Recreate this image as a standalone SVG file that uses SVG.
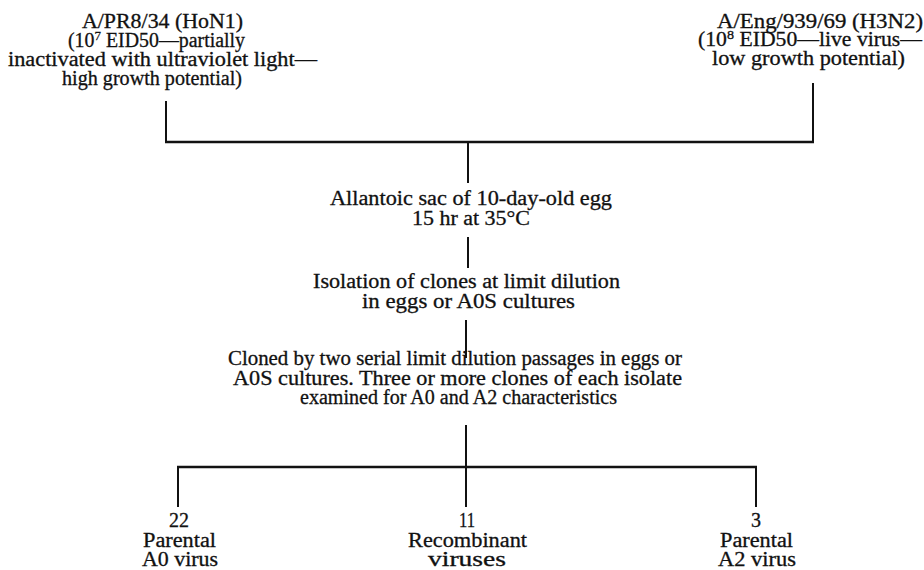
<svg xmlns="http://www.w3.org/2000/svg" width="924" height="570" viewBox="0 0 924 570">
<style>
text{font-family:"Liberation Serif","Times New Roman",serif;font-size:20px;fill:#111;stroke:#111;stroke-width:0.3;text-anchor:middle}
.sup{font-size:13px}
line{stroke:#111;stroke-width:2;stroke-linecap:butt}
</style>
<rect width="924" height="570" fill="#fff"/>
<g id="connectors">
<line x1="166" y1="101" x2="166" y2="143"/>
<line x1="813" y1="83" x2="813" y2="143"/>
<line x1="165" y1="142" x2="814" y2="142" style="stroke-width:2.5"/>
<line x1="468" y1="142" x2="468" y2="183"/>
<line x1="468" y1="237" x2="468" y2="268"/>
<line x1="466" y1="320" x2="466" y2="358"/>
<line x1="466" y1="425" x2="466" y2="467"/>
<line x1="177" y1="467" x2="757" y2="467" style="stroke-width:2.5"/>
<line x1="178" y1="467" x2="178" y2="507"/>
<line x1="466" y1="467" x2="466" y2="507"/>
<line x1="756" y1="467" x2="756" y2="507"/>
</g>
<g id="parent-a0">
<text x="162.5" y="28" textLength="161" lengthAdjust="spacingAndGlyphs">A/PR8/34 (HoN1)</text>
<text x="156.5" y="47" textLength="177" lengthAdjust="spacingAndGlyphs">(10<tspan class="sup" dy="-7">7</tspan><tspan dy="7"> EID50—partially</tspan></text>
<text x="162.5" y="66" textLength="309" lengthAdjust="spacingAndGlyphs">inactivated with ultraviolet light—</text>
<text x="152" y="85" textLength="180" lengthAdjust="spacingAndGlyphs">high growth potential)</text>
</g>
<g id="parent-a2">
<text x="820" y="28" textLength="206" lengthAdjust="spacingAndGlyphs">A/Eng/939/69 (H3N2)</text>
<text x="810" y="46" textLength="224" lengthAdjust="spacingAndGlyphs">(10<tspan class="sup" dy="-7">8</tspan><tspan dy="7"> EID50—live virus—</tspan></text>
<text x="808.5" y="65" textLength="193" lengthAdjust="spacingAndGlyphs">low growth potential)</text>
</g>
<g id="allantoic">
<text x="471" y="205" textLength="282" lengthAdjust="spacingAndGlyphs">Allantoic sac of 10-day-old egg</text>
<text x="471" y="225" textLength="118" lengthAdjust="spacingAndGlyphs">15 hr at 35°C</text>
</g>
<g id="isolation">
<text x="466.5" y="288" textLength="307" lengthAdjust="spacingAndGlyphs">Isolation of clones at limit dilution</text>
<text x="468.5" y="308" textLength="213" lengthAdjust="spacingAndGlyphs">in eggs or A0S cultures</text>
</g>
<g id="cloned">
<text x="455" y="365" textLength="454" lengthAdjust="spacingAndGlyphs">Cloned by two serial limit dilution passages in eggs or</text>
<text x="457.5" y="385" textLength="449" lengthAdjust="spacingAndGlyphs">A0S cultures. Three or more clones of each isolate</text>
<text x="458.5" y="404" textLength="317" lengthAdjust="spacingAndGlyphs">examined for A0 and A2 characteristics</text>
</g>
<g id="result-a0">
<text x="179" y="527" textLength="20" lengthAdjust="spacingAndGlyphs">22</text>
<text x="179.5" y="547" textLength="73" lengthAdjust="spacingAndGlyphs">Parental</text>
<text x="180" y="566" textLength="76" lengthAdjust="spacingAndGlyphs">A0 virus</text>
</g>
<g id="result-recombinant">
<text x="467" y="527" textLength="16" lengthAdjust="spacingAndGlyphs">11</text>
<text x="467.5" y="547" textLength="119" lengthAdjust="spacingAndGlyphs">Recombinant</text>
<text x="467" y="566" textLength="78" lengthAdjust="spacingAndGlyphs">viruses</text>
</g>
<g id="result-a2">
<text x="756" y="527">3</text>
<text x="756.5" y="547" textLength="73" lengthAdjust="spacingAndGlyphs">Parental</text>
<text x="757" y="566" textLength="78" lengthAdjust="spacingAndGlyphs">A2 virus</text>
</g>
</svg>
